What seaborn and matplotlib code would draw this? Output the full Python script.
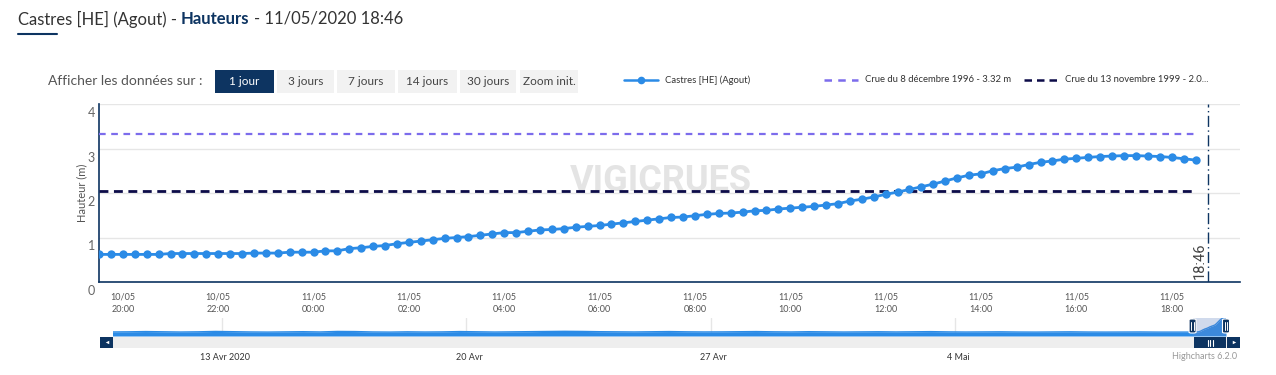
import numpy as np
import pandas as pd
import matplotlib
matplotlib.use('Agg')
import matplotlib.pyplot as plt
import matplotlib.dates as mdates
from matplotlib.patches import Rectangle, FancyBboxPatch
from matplotlib.lines import Line2D
from matplotlib.transforms import ScaledTranslation
import seaborn as sns

# ---- data ----
station = 'Castres [HE] (Agout)'
grandeur = 'Hauteurs'
date_obs = '11/05/2020 18:46'
debut = '2020-05-10 19:30'   # first point, one point every 15 minutes
hauteur = [
    0.62, 0.62, 0.62, 0.62, 0.62, 0.62,
    0.64, 0.64, 0.64, 0.64, 0.64, 0.64, 0.64,
    0.65, 0.65, 0.65, 0.67, 0.67, 0.67, 0.70, 0.70,
    0.75, 0.77, 0.80, 0.82, 0.86, 0.89, 0.92, 0.95, 0.98, 1.00,
    1.02, 1.05, 1.08, 1.11, 1.11, 1.14, 1.17, 1.18, 1.20, 1.23,
    1.25, 1.27, 1.30, 1.33, 1.36, 1.39, 1.42, 1.45, 1.46, 1.49,
    1.52, 1.54, 1.55, 1.57, 1.60, 1.61, 1.64, 1.66, 1.68, 1.70,
    1.73, 1.76, 1.82,
    1.86, 1.91, 1.97, 2.02, 2.08, 2.14, 2.20, 2.27, 2.34, 2.40,
    2.43, 2.50, 2.55, 2.58, 2.64, 2.69, 2.72, 2.76, 2.78, 2.80,
    2.82, 2.83, 2.84, 2.84, 2.83, 2.82, 2.80, 2.77, 2.74,
]
crue_1996 = 3.32
crue_1996_label = 'Crue du 8 décembre 1996 - 3.32 m'
crue_1999 = 2.04
crue_1999_label = 'Crue du 13 novembre 1999 - 2.0...'
heure_obs = '2020-05-11 18:46'
heure_label = '18:46'
x_fin = '2020-05-11 19:26'

# navigator: one month, one value every 12 hours before the last day
nav_debut = '2020-04-09 19:30'
nav_hauteur = [
    0.64, 0.66, 0.70, 0.66, 0.63, 0.66, 0.72, 0.68, 0.64, 0.62,
    0.65, 0.68, 0.64, 0.72, 0.70, 0.64, 0.62, 0.66, 0.63, 0.65,
    0.70, 0.67, 0.63, 0.66, 0.68, 0.72, 0.74, 0.72, 0.68, 0.66,
    0.64, 0.67, 0.70, 0.66, 0.64, 0.65, 0.68, 0.70, 0.66, 0.64,
    0.68, 0.66, 0.63, 0.65, 0.67, 0.64, 0.66, 0.69, 0.65, 0.63,
    0.64, 0.66, 0.63, 0.62, 0.64, 0.66, 0.63, 0.62, 0.63, 0.64,
    0.62, 0.62,
]
nav_xlim = ('2020-04-09 21:00', '2020-05-11 18:30')
nav_ticks = ['2020-04-13', '2020-04-20', '2020-04-27', '2020-05-04']
nav_tick_labels = ['13 Avr 2020', '20 Avr', '27 Avr', '4 Mai']

y_ticks = [0, 1, 2, 3, 4]
boutons = ['1 jour', '3 jours', '7 jours', '14 jours', '30 jours', 'Zoom init.']

# ---- styling ----
BLUE = '#2b8be6'
PURPLE = '#7c6cec'
NAVY_LINE = '#0c0b48'
NAVY = '#0d3461'
GRID = '#e6e6e6'
TXT = '#333333'

W, H = 1276, 375


def fx(px):
    return px / W


def fy(py):
    return 1 - py / H


sns.set_style('white')
plt.rcParams['font.family'] = ['Lato', 'DejaVu Sans']

fig = plt.figure(figsize=(W / 100, H / 100), dpi=100)

# ---- header ----
renderer = fig.canvas.get_renderer()
t1 = fig.text(fx(18), fy(19), station + ' -', fontsize=12, color=TXT, va='center')
x1 = t1.get_window_extent(renderer).x1 + 4
t2 = fig.text(x1 / W, fy(19), grandeur, fontsize=12, color=NAVY, weight='bold', va='center')
x2 = t2.get_window_extent(renderer).x1 + 4
fig.text(x2 / W, fy(19), '- ' + date_obs, fontsize=12, color=TXT, va='center')
fig.add_artist(Line2D([fx(18), fx(57)], [fy(34), fy(34)], color=NAVY, lw=1.5))

# range buttons
fig.text(fx(48), fy(81), 'Afficher les données sur :', fontsize=10, color='#555555', va='center')
bx = [(215, 274), (277, 334), (337, 395), (398, 457), (460, 516), (520, 578)]
for i, (lab, (a, b)) in enumerate(zip(boutons, bx)):
    actif = i == 0
    fig.add_artist(Rectangle((fx(a), fy(93)), fx(b) - fx(a), fy(70) - fy(93),
                             facecolor=NAVY if actif else '#f2f2f2', edgecolor='none'))
    fig.text(fx((a + b) / 2), fy(81.5), lab, fontsize=8.5, ha='center', va='center',
             color='white' if actif else '#444444')

# legend
leg = [(624, BLUE, '-', station), (824, PURPLE, (0, (3, 2.5)), crue_1996_label),
       (1024, NAVY_LINE, (0, (3, 2)), crue_1999_label)]
for x0, c, ls, lab in leg:
    fig.add_artist(Line2D([fx(x0), fx(x0 + 34)], [fy(80), fy(80)], color=c, lw=1.8, ls=ls))
    if ls == '-':
        fig.add_artist(Line2D([fx(x0 + 17)], [fy(80)], color=c, marker='o', ms=5.5, mew=0))
    fig.text(fx(x0 + 41), fy(80), lab, fontsize=6.8, color=TXT, va='center')

# ---- main chart ----
ax = fig.add_axes([fx(99), fy(282), fx(1240) - fx(99), fy(104) - fy(282)])
df = pd.DataFrame({'temps': pd.date_range(debut, periods=len(hauteur), freq='15min'),
                   'hauteur': hauteur})
df_crue = pd.DataFrame({'temps': [df['temps'].iloc[0], df['temps'].iloc[-1]],
                        'h1996': [crue_1996] * 2, 'h1999': [crue_1999] * 2})

ax.text(0.4925, 0.57, 'VIGICRUES', transform=ax.transAxes, fontsize=26, weight='bold',
        family='Roboto', color='#e4e4e4', ha='center', va='center', zorder=0)

sns.lineplot(data=df_crue, x='temps', y='h1996', ax=ax, color=PURPLE, lw=1.6,
             linestyle=(0, (3, 2.5)), zorder=3)
sns.lineplot(data=df_crue, x='temps', y='h1999', ax=ax, color=NAVY_LINE, lw=2,
             linestyle=(0, (3.2, 2)), zorder=3)
sns.lineplot(data=df, x='temps', y='hauteur', ax=ax, color=BLUE, lw=2, marker='o',
             markersize=6, markeredgewidth=0, zorder=5)

t_obs = pd.Timestamp(heure_obs)
ax.axvline(t_obs, color=NAVY, lw=1, linestyle=(0, (8, 2.5, 1, 2.5)), zorder=4)
ax.text(t_obs, 0.015, heure_label, rotation=90, ha='right', va='bottom', fontsize=10.5,
        family='Roboto', color='#444444',
        transform=ax.get_xaxis_transform() + ScaledTranslation(-1 / 100, 0, fig.dpi_scale_trans))

ax.set_xlim(pd.Timestamp(debut), pd.Timestamp(x_fin))
ax.set_ylim(y_ticks[0], y_ticks[-1])
ax.set_yticks(y_ticks)
ax.set_yticklabels([str(v) for v in y_ticks])
ax.tick_params(axis='y', length=0, pad=3, labelsize=9, labelcolor='#666666')
ax.xaxis.set_major_locator(mdates.HourLocator(byhour=range(0, 24, 2)))
ax.xaxis.set_major_formatter(mdates.DateFormatter('%d/%m\n%H:%M'))
ax.tick_params(axis='x', length=6, width=1, color=NAVY, pad=1.5, labelsize=6.5,
               labelcolor='#555555')
for lab in ax.get_xticklabels():
    lab.set_linespacing(1.5)
# Highcharts puts the y labels just under each grid line
for lab in ax.get_yticklabels():
    lab.set_transform(lab.get_transform() + ScaledTranslation(0, -8 / 100, fig.dpi_scale_trans))
ax.grid(axis='y', color=GRID, lw=1)
ax.grid(axis='x', visible=False)
sns.despine(ax=ax)
for s in ('left', 'bottom'):
    ax.spines[s].set_color(NAVY)
    ax.spines[s].set_linewidth(1.2)
ax.set_xlabel('')
ax.set_ylabel('Hauteur (m)', fontsize=8, color='#555555')
ax.yaxis.set_label_coords(-0.0105, 0.5)

# ---- navigator ----
axn = fig.add_axes([fx(113), fy(336), fx(1226) - fx(113), fy(318) - fy(336)])
nav = pd.concat([
    pd.DataFrame({'temps': pd.date_range(nav_debut, periods=len(nav_hauteur), freq='12h'),
                  'hauteur': nav_hauteur}),
    df,
], ignore_index=True)
axn.fill_between(nav['temps'], 0, nav['hauteur'], color=BLUE, lw=0, zorder=2)
sns.lineplot(data=nav, x='temps', y='hauteur', ax=axn, color=BLUE, lw=1, zorder=3)
axn.axvspan(df['temps'].iloc[0], df['temps'].iloc[-1], color='#6685c2', alpha=0.3, lw=0, zorder=4)
axn.set_xlim(pd.Timestamp(nav_xlim[0]), pd.Timestamp(nav_xlim[1]))
axn.set_ylim(0, max(hauteur))
axn.set_xticks([pd.Timestamp(t) for t in nav_ticks])
axn.set_xticklabels(nav_tick_labels)
axn.tick_params(axis='x', length=0, pad=12, labelsize=6.5, labelcolor=TXT)
for lab in axn.get_xticklabels():
    lab.set_transform(lab.get_transform() + ScaledTranslation(3 / 100, 0, fig.dpi_scale_trans))
axn.set_yticks([])
axn.grid(axis='x', color=GRID, lw=1)
axn.grid(axis='y', visible=False)
axn.set_xlabel('')
axn.set_ylabel('')
for s in axn.spines.values():
    s.set_visible(False)

# scrollbar
fig.add_artist(Rectangle((fx(100), fy(348.3)), fx(1240) - fx(100), fy(336.5) - fy(348.3),
                         facecolor='#eeeeee', edgecolor='none'))
for a, b in [(100, 113), (1194, 1226), (1227, 1240)]:
    fig.add_artist(Rectangle((fx(a), fy(348.3)), fx(b) - fx(a), fy(336.5) - fy(348.3),
                             facecolor=NAVY, edgecolor='none'))
fig.add_artist(Line2D([fx(106.5)], [fy(342.4)], marker='<', ms=2.5, color='white', mew=0))
fig.add_artist(Line2D([fx(1233.5)], [fy(342.4)], marker='>', ms=2.5, color='white', mew=0))
for dx in (-2.5, 0, 2.5):
    fig.add_artist(Line2D([fx(1210 + dx)] * 2, [fy(339.5), fy(345.5)], color='white', lw=0.8))

# navigator handles at the edges of the selection
xs = axn.transData.transform([(mdates.date2num(df['temps'].iloc[0]), 0),
                              (mdates.date2num(df['temps'].iloc[-1]), 0)])[:, 0]
for xp in xs:
    fig.add_artist(FancyBboxPatch((fx(xp - 3.5), fy(333)), fx(7), fy(319) - fy(333),
                                  boxstyle='round,pad=0,rounding_size=0.002',
                                  facecolor=NAVY, edgecolor='white', lw=0.8))
    for dx in (-1.2, 1.2):
        fig.add_artist(Line2D([fx(xp + dx)] * 2, [fy(322), fy(330)], color='white', lw=0.7))

fig.text(fx(1205), fy(356.5), 'Highcharts 6.2.0', fontsize=6.5, color='#999999',
         ha='center', va='center')

fig.savefig('out.png', dpi=100)
